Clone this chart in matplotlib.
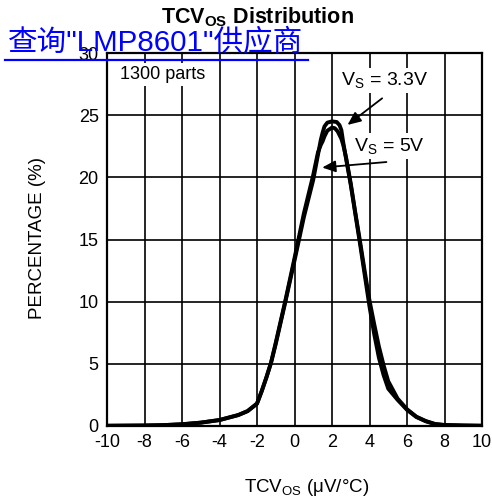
import matplotlib
matplotlib.use("Agg")
import matplotlib.pyplot as plt
from matplotlib.lines import Line2D

plt.rcParams['font.family'] = ['Liberation Sans', 'Noto Sans CJK SC', 'DejaVu Sans']
plt.rcParams['mathtext.fontset'] = 'custom'
plt.rcParams['mathtext.rm'] = 'Liberation Sans'
plt.rcParams['mathtext.it'] = 'Liberation Sans'
plt.rcParams['mathtext.bf'] = 'Liberation Sans:bold'

tcv_33 = [-10, -8, -7, -6, -5, -4, -3, -2.5, -2, -1.75, -1.5, -1.25, -1, -0.5, 0, 0.5, 1,
          1.25, 1.4, 1.5, 1.6, 1.75, 2, 2.25, 2.4, 2.5, 2.6, 2.75, 3, 3.25, 3.5, 3.75, 4,
          4.25, 4.5, 4.75, 5, 5.5, 6, 6.5, 7, 7.5, 8, 9, 10]
pct_33 = [0.02, 0.04, 0.07, 0.14, 0.27, 0.48, 0.88, 1.2, 1.8, 2.8, 3.9, 5.1, 6.6, 9.9, 13.3, 16.8, 19.8,
          21.8, 23.0, 23.6, 24.1, 24.4, 24.5, 24.45, 24.2, 23.8, 22.8, 21.5, 19.4, 17.0, 14.6, 12.1, 9.6,
          7.4, 5.5, 4.1, 3.0, 2.1, 1.3, 0.72, 0.38, 0.15, 0.08, 0.04, 0.02]

tcv_5 = [-10, -8, -7, -6, -5, -4, -3, -2.5, -2, -1.75, -1.5, -1.25, -1, -0.5, 0, 0.5, 1,
         1.25, 1.4, 1.5, 1.6, 1.75, 2, 2.15, 2.3, 2.4, 2.5, 2.6, 2.75, 3, 3.25, 3.5, 3.75, 4,
         4.25, 4.5, 4.75, 5, 5.5, 6, 6.5, 7, 7.5, 8, 9, 10]
pct_5 = [0.02, 0.04, 0.07, 0.14, 0.27, 0.48, 0.88, 1.2, 1.8, 2.8, 3.9, 5.1, 6.7, 10.0, 13.5, 17.1, 20.2,
         22.0, 22.6, 22.9, 23.3, 23.75, 24.0, 23.95, 23.7, 23.4, 23.1, 22.6, 21.6, 19.5, 17.1, 14.8, 12.4, 10.1,
         8.2, 6.4, 4.9, 3.6, 2.2, 1.35, 0.75, 0.4, 0.16, 0.08, 0.04, 0.02]

xticks = list(range(-10, 11, 2))
yticks = list(range(0, 31, 5))

fig = plt.figure(figsize=(4.92, 5.01), dpi=100)
ax = fig.add_axes([107/492, 1-426/501, 375/492, 373/501])

ax.plot(tcv_33, pct_33, color='black', lw=2.8, solid_capstyle='round', solid_joinstyle='round', zorder=3)
ax.plot(tcv_5, pct_5, color='black', lw=2.8, solid_capstyle='round', solid_joinstyle='round', zorder=3)

ax.set_xlim(-10, 10)
ax.set_ylim(0, 30)
ax.set_xticks(xticks)
ax.set_yticks(yticks)
ax.set_xticklabels([str(t) for t in xticks])
ax.set_yticklabels([str(t) for t in yticks])
ax.tick_params(length=0, labelsize=13, pad=6)
ax.grid(True, color='black', lw=1.2)
for s in ax.spines.values():
        s.set_linewidth(1.6)

# labels in the plot
ax.text(-9.31, 27.9, "1300 parts", fontsize=13, ha='left', va='baseline', zorder=4,
        bbox=dict(facecolor='white', edgecolor='none', pad=2))
ax.text(2.5, 27.4, r"V$_{\rm S}$ = 3.3V", fontsize=14, ha='left', va='baseline', zorder=4,
        bbox=dict(facecolor='white', edgecolor='none', pad=2))
ax.text(3.19, 22.13, r"V$_{\rm S}$ = 5V", fontsize=14, ha='left', va='baseline', zorder=4,
        bbox=dict(facecolor='white', edgecolor='none', pad=2))
ax.annotate('', xy=(2.71, 24.08), xytext=(4.79, 26.49), zorder=5,
            arrowprops=dict(arrowstyle='-|>,head_length=0.8,head_width=0.35', color='black', lw=1.3))
ax.annotate('', xy=(1.33, 20.77), xytext=(5.05, 21.25), zorder=5,
            arrowprops=dict(arrowstyle='-|>,head_length=0.8,head_width=0.35', color='black', lw=1.3))

fig.text(257/492, 1-17/501, r"$\mathbf{TCV_{OS}\ Distribution}$", fontsize=15.5,
         ha='center', va='center')
fig.text(307/492, 1-487/501, r"TCV$_{\rm OS}$ ($\mu$V/°C)", fontsize=13.5, ha='center', va='center')
fig.text(38/492, 1-238/501, "PERCENTAGE (%)", fontsize=13.5, rotation=90, ha='center', va='center')

# link text on top
fig.text(8/492, 1-50/501, '查询"LMP8601"供应商', fontsize=21.3, color='#0000ff',
         ha='left', va='baseline', zorder=10)
fig.add_artist(Line2D([5/492, 308/492], [1-60/501, 1-60/501], color='#0000ff', lw=1.6, zorder=10))

plt.savefig("out.png", dpi=100)
